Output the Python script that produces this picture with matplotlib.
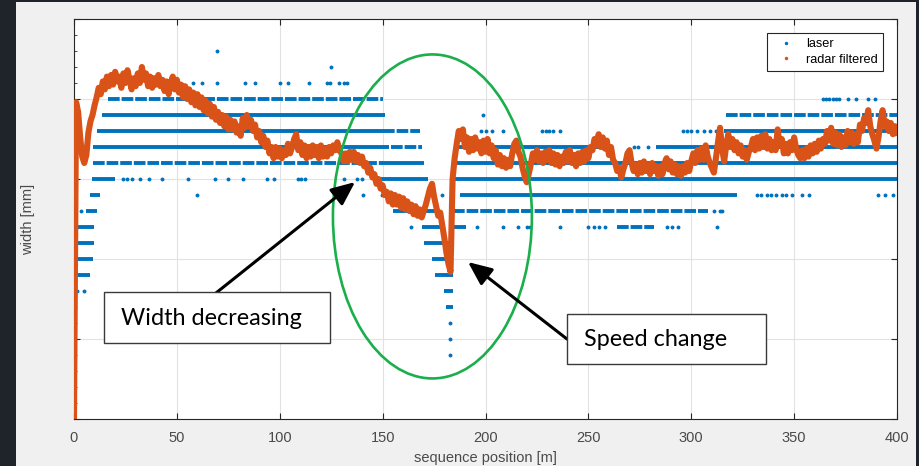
import numpy as np
import matplotlib
matplotlib.use('Agg')
import matplotlib.pyplot as plt
from matplotlib.patches import Ellipse, Rectangle
from matplotlib.lines import Line2D

# radar filtered width, one value per metre of sequence position (0..400 m)
radar_y = [
    0, 198, 192, 176, 164, 160, 165, 179, 186, 190,          # 0
    196, 201, 207, 203, 211, 206, 214, 208, 215, 209,        # 10
    217, 211, 214, 207, 216, 210, 218, 212, 206, 213,        # 20
    208, 216, 210, 220, 212, 216, 208, 214, 207, 213,        # 30
    209, 215, 208, 212, 205, 211, 203, 210, 214, 206,        # 40
    212, 204, 209, 201, 208, 200, 206, 198, 204, 196,        # 50
    203, 195, 201, 193, 199, 191, 197, 189, 195, 187,        # 60
    192, 185, 190, 183, 189, 181, 187, 181, 186, 179,        # 70
    183, 177, 188, 182, 190, 183, 187, 180, 184, 176,        # 80
    180, 173, 177, 170, 174, 166, 170, 163, 170, 164,        # 90
    169, 163, 168, 165, 172, 166, 170, 175, 178, 168,        # 100
    173, 165, 171, 163, 170, 164, 171, 165, 170, 163,        # 110
    171, 164, 169, 164, 170, 166, 171, 168, 173, 168,        # 120
    166, 161, 166, 161, 167, 162, 167, 161, 165, 160,        # 130
    164, 158, 160, 154, 157, 151, 153, 147, 150, 144,        # 140
    146, 140, 142, 136, 141, 134, 140, 134, 139, 132,        # 150
    138, 131, 136, 130, 134, 128, 133, 127, 131, 126,        # 160
    130, 134, 139, 144, 147, 139, 133, 127, 129, 121,        # 170
    113, 104, 97, 92, 150, 163, 172, 180, 175, 181,          # 180
    170, 176, 167, 175, 168, 176, 169, 173, 166, 174,        # 190
    167, 175, 166, 171, 163, 168, 159, 165, 158, 163,        # 200
    157, 162, 158, 166, 172, 174, 167, 164, 157, 152,        # 210
    148, 153, 159, 166, 162, 168, 161, 166, 160, 167,        # 220
    162, 168, 160, 166, 159, 165, 158, 164, 160, 167,        # 230
    161, 168, 160, 165, 158, 166, 160, 167, 161, 168,        # 240
    163, 170, 168, 175, 171, 178, 170, 176, 169, 174,        # 250
    165, 170, 162, 160, 155, 157, 151, 156, 160, 166,        # 260
    168, 160, 155, 159, 153, 160, 154, 161, 155, 159,        # 270
    153, 160, 155, 158, 152, 158, 153, 160, 163, 156,        # 280
    161, 154, 159, 153, 158, 152, 158, 154, 160, 155,        # 290
    161, 166, 160, 168, 162, 169, 162, 171, 164, 160,        # 300
    157, 154, 163, 173, 182, 169, 161, 171, 178, 170,        # 310
    175, 168, 173, 166, 171, 164, 168, 162, 167, 170,        # 320
    175, 168, 176, 169, 177, 170, 178, 169, 175, 168,        # 330
    173, 168, 181, 171, 175, 166, 172, 166, 173, 168,        # 340
    176, 169, 165, 163, 168, 163, 169, 164, 171, 166,        # 350
    172, 167, 174, 169, 175, 172, 180, 174, 182, 172,        # 360
    179, 171, 178, 170, 176, 171, 180, 173, 179, 172,        # 370
    178, 173, 184, 180, 188, 185, 193, 183, 178, 174,        # 380
    169, 176, 186, 193, 183, 186, 180, 185, 178, 183,        # 390
    179,                                                     # 400
]
radar_x = np.arange(len(radar_y))

# laser: quantised levels, runs of dense readings (level, from, to)
laser_runs = [
    (190, 13.6, 151), (180, 11, 150), (180, 316, 400),
    (170, 9, 153), (170, 185, 262), (170, 283, 400),
    (160, 150, 170), (160, 186, 400),
    (150, 8.7, 20), (150, 149, 172), (150, 184, 400),
    (140, 7.8, 12.6), (140, 187.6, 322),
    (130, 6, 11), (130, 155, 175.5),
    (120, 1.5, 9.5), (120, 169, 179), (120, 184, 190.5),
    (110, 1.5, 9.5), (110, 170, 184),
    (100, 1.5, 9), (100, 174, 183.5),
    (90, 1.5, 7.8), (90, 175.5, 184),
    (80, 180, 184), (70, 181, 184),
]
# runs with gaps between readings
laser_gappy = [
    (200, 16.5, 150), (190, 317, 400), (180, 150, 168),
    (170, 154, 169), (160, 9, 150), (130, 184, 308), (120, 264, 282),
]
# single readings per level
laser_dots = {
    230: [69.5],
    220: [125],
    210: [58, 62, 69.5, 83, 88, 100, 104, 114, 123, 124.4, 129, 131, 132.7],
    200: [364, 365.5, 367, 369, 370.5, 372, 376, 380, 386, 389.5],
    190: [199],
    180: [198, 200, 203, 208.5, 227.5, 229.5, 231, 233, 236,
          296, 298, 300, 303, 306, 309, 312],
    170: [272, 274, 279],
    150: [24, 26, 28, 32, 36.5, 43, 55.5, 68.5, 75, 82, 94, 97,
          109, 110.5, 112.5, 131, 137.5, 140, 146],
    140: [60, 140.5, 149.6, 179, 332, 334, 337, 339, 341, 344, 346,
          349, 354, 357, 391, 394, 398],
    130: [3.3, 311, 314, 315],
    120: [163.8, 196, 208.5, 216, 220, 221.6, 236, 250, 252.5, 255, 258,
          288, 290.5, 293.5, 312.5],
    80: [1.5, 4.7],
    60: [182.8],
    50: [182.8],
    40: [182.8],
}

x_ticks = [0, 50, 100, 150, 200, 250, 300, 350, 400]

BLUE = '#0072BD'
ORANGE = '#D95319'
GREEN = '#1aaf4b'

fig = plt.figure(figsize=(9.19, 4.66), dpi=100, facecolor='#1f232a')
fig.patches.append(Rectangle((16 / 919, 0), 900 / 919, 464 / 466,
                             transform=fig.transFigure, facecolor='#f0f0f0',
                             edgecolor='none', zorder=-10))
ax = fig.add_axes([74 / 919, 47 / 466, 823 / 919, 400 / 466])
ax.set_zorder(1)
ax.set_facecolor('white')

# laser
for lev, x0, x1 in laser_runs:
    ax.hlines(lev, x0, x1, color=BLUE, lw=2.8, zorder=2)
for lev, x0, x1 in laser_gappy:
    ax.hlines(lev, x0, x1, color=BLUE, lw=2.8, linestyles=(0, (3.0, 0.5)), zorder=2)
for lev, xs in laser_dots.items():
    ax.plot(xs, [lev] * len(xs), 'o', color=BLUE, ms=2.8, mew=0, zorder=2)

# radar filtered
ax.plot(radar_x, radar_y, '-', color=ORANGE, lw=4.4, solid_joinstyle='round', zorder=3)

ax.set_xlim(0, 400)
ax.set_ylim(0, 250)
ax.set_xticks(x_ticks)
ax.set_yticks(np.arange(0, 251, 50))
ax.set_yticks(np.arange(0, 251, 10), minor=True)
ax.set_yticklabels([])
ax.tick_params(which='major', direction='in', length=4, width=0.8, color='#262626',
               top=True, right=True, labelsize=10.5, labelcolor='#4a4a4a', pad=9)
ax.tick_params(which='minor', direction='in', length=2.2, width=0.6, color='#262626',
               left=True, right=False)
ax.tick_params(axis='x', which='minor', bottom=False, top=False)
ax.grid(True, which='major', color='#e2e2e2', lw=0.8, zorder=0)
ax.set_axisbelow(True)
for s in ax.spines.values():
    s.set_color('#262626')
    s.set_linewidth(0.8)
for lbl in ax.get_xticklabels():
    lbl.set_fontfamily('Liberation Sans')

ax.set_xlabel('sequence position [m]', fontsize=10.5, color='#4a4a4a',
              family='Liberation Sans', labelpad=4)
ax.set_ylabel('width [mm]', fontsize=10.5, color='#4a4a4a', family='Liberation Sans')
ax.yaxis.set_label_coords(-0.047, 0.5)

handles = [Line2D([], [], marker='o', ms=2.5, mew=0, ls='none', color=BLUE),
           Line2D([], [], marker='o', ms=2.5, mew=0, ls='none', color=ORANGE)]
leg = ax.legend(handles, ['laser', 'radar filtered'], loc='upper right',
                bbox_to_anchor=(0.983, 0.965), borderaxespad=0,
                fancybox=False, framealpha=1, edgecolor='#262626',
                handlelength=2.2, handletextpad=0.5, borderpad=0.4,
                labelspacing=0.3, prop={'family': 'Liberation Sans', 'size': 9.2})
leg.get_frame().set_linewidth(0.8)

# annotations
ax.add_patch(Ellipse((174.2, 126.6), 96.7, 202.5, fill=False, edgecolor=GREEN,
                     lw=1.9, zorder=5))
ax.annotate('', xy=(136.6, 148.1), xytext=(69.0, 78.75),
            arrowprops=dict(arrowstyle='-|>,head_length=0.8,head_width=0.35',
                            color='black', lw=2.2, mutation_scale=18,
                            shrinkA=0, shrinkB=0), zorder=6)
ax.annotate('', xy=(191.5, 98.1), xytext=(239.6, 50.0),
            arrowprops=dict(arrowstyle='-|>,head_length=0.8,head_width=0.35',
                            color='black', lw=2.2, mutation_scale=18,
                            shrinkA=0, shrinkB=0), zorder=6)

ax.add_patch(Rectangle((14.6, 47.5), 109.8, 31.9, facecolor='white',
                       edgecolor='#3a3a3a', lw=1.0, zorder=7))
ax.text(22.8, 63.1, 'Width decreasing', fontsize=16.8, family='Lato',
        va='center', ha='left', color='black', zorder=8)
ax.add_patch(Rectangle((239.6, 34.4), 96.7, 31.2, facecolor='white',
                       edgecolor='#3a3a3a', lw=1.0, zorder=7))
ax.text(247.9, 50.0, 'Speed change', fontsize=16.8, family='Lato',
        va='center', ha='left', color='black', zorder=8)

fig.savefig('out.png', dpi=100, facecolor=fig.get_facecolor())
